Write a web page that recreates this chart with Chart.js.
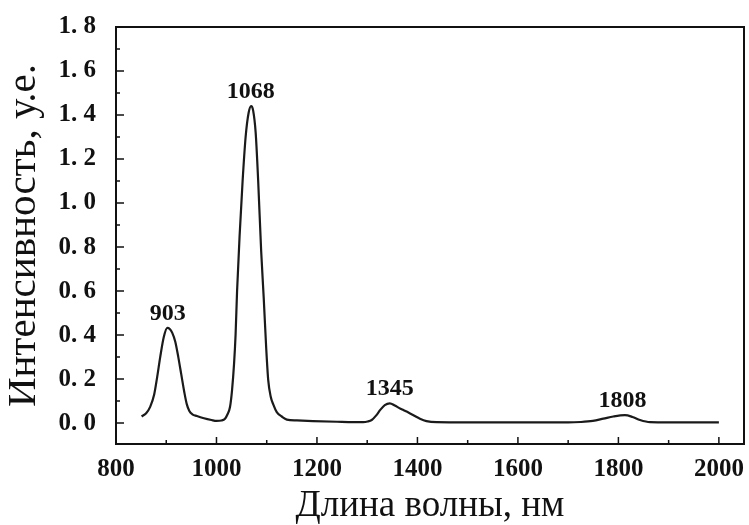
<!DOCTYPE html>
<html>
<head>
<meta charset="utf-8">
<style>
    html, body { margin: 0; padding: 0; background: #fff; }
    #wrap { width: 749px; height: 525px; }
</style>
<script src="https://cdn.jsdelivr.net/npm/chart.js@4/dist/chart.umd.min.js"></script>
</head>
<body>
<div id="wrap"><canvas id="chart" width="749" height="525"></canvas></div>
<script>
'use strict';

// spectrum: wavelength (nm) and intensity (a.u.)
var wavelength = [
    851, 860, 868, 876, 882, 888, 895, 902, 907, 912, 918, 924, 930, 936, 941, 946, 952, 961,
    975, 990, 1000, 1010, 1017, 1022, 1027, 1031, 1035, 1038, 1041, 1046, 1052, 1058,
    1064, 1069, 1073, 1078, 1083, 1089, 1094, 1099, 1103, 1108, 1113, 1120, 1130, 1140,
    1160, 1192, 1240, 1292, 1301, 1309, 1318, 1326, 1335, 1345, 1355, 1364, 1372, 1382,
    1392, 1405, 1418, 1438, 1500, 1600, 1700, 1725, 1749, 1770, 1790, 1813, 1828, 1843,
    1863, 1900, 1950, 2000
];
var intensity = [
    0.03, 0.045, 0.074, 0.13, 0.21, 0.30, 0.39, 0.433, 0.428, 0.41, 0.37, 0.30, 0.22, 0.14, 0.085, 0.055, 0.04, 0.032,
    0.022, 0.014, 0.01, 0.012, 0.02, 0.04, 0.074, 0.15, 0.27, 0.40, 0.60, 0.85, 1.10, 1.30,
    1.41, 1.44, 1.42, 1.32, 1.10, 0.78, 0.57, 0.34, 0.195, 0.12, 0.085, 0.05, 0.03, 0.016,
    0.012, 0.009, 0.006, 0.004, 0.007, 0.014, 0.035, 0.06, 0.082, 0.09, 0.08, 0.068, 0.059, 0.048,
    0.036, 0.02, 0.009, 0.004, 0.003, 0.003, 0.003, 0.005, 0.01, 0.02, 0.03, 0.036, 0.028, 0.014,
    0.004, 0.003, 0.003, 0.003
];

var peakLabels = ['903', '1068', '1345', '1808'];
var peakX      = [903, 1068, 1345, 1808];
var peakY      = [0.433, 1.44, 0.09, 0.036];

var xTicks      = [800, 1000, 1200, 1400, 1600, 1800, 2000];
var xMinorTicks = [900, 1100, 1300, 1500, 1700, 1900];
var yTicks      = [0, 0.2, 0.4, 0.6, 0.8, 1.0, 1.2, 1.4, 1.6, 1.8];
var yMinorTicks = [0.1, 0.3, 0.5, 0.7, 0.9, 1.1, 1.3, 1.5, 1.7];

var points = wavelength.map(function(w, i) {
    return { x: w, y: intensity[i] };
});

var serif = '"Liberation Serif", "DejaVu Serif", serif';
var tickFont = { family: serif, size: 25, weight: 'bold' };

// frame, inward ticks and peak captions
var framePlugin = {
    id: 'frame',
    afterDatasetsDraw: function(chart) {
        var ctx = chart.ctx,
            a = chart.chartArea,
            xs = chart.scales.x,
            ys = chart.scales.y;

        ctx.save();
        ctx.strokeStyle = '#111';
        ctx.lineWidth = 2;
        ctx.strokeRect(a.left, a.top, a.right - a.left, a.bottom - a.top);

        ctx.lineWidth = 1.5;
        ctx.beginPath();
        xTicks.forEach(function(v) {
            var px = xs.getPixelForValue(v);
            ctx.moveTo(px, a.bottom);
            ctx.lineTo(px, a.bottom - 7);
        });
        xMinorTicks.forEach(function(v) {
            var px = xs.getPixelForValue(v);
            ctx.moveTo(px, a.bottom);
            ctx.lineTo(px, a.bottom - 4);
        });
        yTicks.forEach(function(v) {
            var py = ys.getPixelForValue(v);
            ctx.moveTo(a.left, py);
            ctx.lineTo(a.left + 8, py);
        });
        yMinorTicks.forEach(function(v) {
            var py = ys.getPixelForValue(v);
            ctx.moveTo(a.left, py);
            ctx.lineTo(a.left + 4, py);
        });
        ctx.stroke();

        ctx.fillStyle = '#111';
        ctx.font = 'bold 24px ' + serif;
        ctx.textAlign = 'center';
        ctx.textBaseline = 'alphabetic';
        peakLabels.forEach(function(label, i) {
            ctx.fillText(label, xs.getPixelForValue(peakX[i]), ys.getPixelForValue(peakY[i]) - 8);
        });
        ctx.restore();
    }
};

new Chart(document.getElementById('chart'), {
    type: 'line',
    data: {
        datasets: [{
            data: points,
            borderColor: '#1a1a1a',
            borderWidth: 2.2,
            pointRadius: 0,
            fill: false,
            cubicInterpolationMode: 'monotone'
        }]
    },
    options: {
        responsive: false,
        animation: false,
        events: [],
        layout: { padding: { left: 0, right: 5, top: 25, bottom: 0 } },
        plugins: {
            legend: { display: false },
            tooltip: { enabled: false }
        },
        scales: {
            x: {
                type: 'linear',
                min: 800,
                max: 2050,
                grid: { display: false },
                border: { display: false },
                afterBuildTicks: function(scale) {
                    scale.ticks = xTicks.map(function(v) { return { value: v }; });
                },
                afterFit: function(scale) { scale.height = 81; },
                ticks: {
                    color: '#111',
                    font: tickFont,
                    padding: 3,
                    maxRotation: 0,
                    callback: function(v) { return String(v); }
                },
                title: {
                    display: true,
                    text: 'Длина волны, нм',
                    color: '#111',
                    font: { family: serif, size: 37, lineHeight: 1.0 },
                    padding: { top: 0, bottom: 0 }
                }
            },
            y: {
                type: 'linear',
                min: -0.095,
                max: 1.8,
                grid: { display: false },
                border: { display: false },
                afterBuildTicks: function(scale) {
                    scale.ticks = yTicks.map(function(v) { return { value: v }; });
                },
                afterFit: function(scale) { scale.width = 116; },
                ticks: {
                    color: '#111',
                    font: tickFont,
                    padding: 12,
                    callback: function(v) { return v.toFixed(1).replace('.', '. '); }
                },
                title: {
                    display: true,
                    text: 'Интенсивность, у.е.',
                    color: '#111',
                    font: { family: serif, size: 41 },
                    padding: { top: 0, bottom: 0 }
                }
            }
        }
    },
    plugins: [framePlugin]
});
</script>
</body>
</html>
